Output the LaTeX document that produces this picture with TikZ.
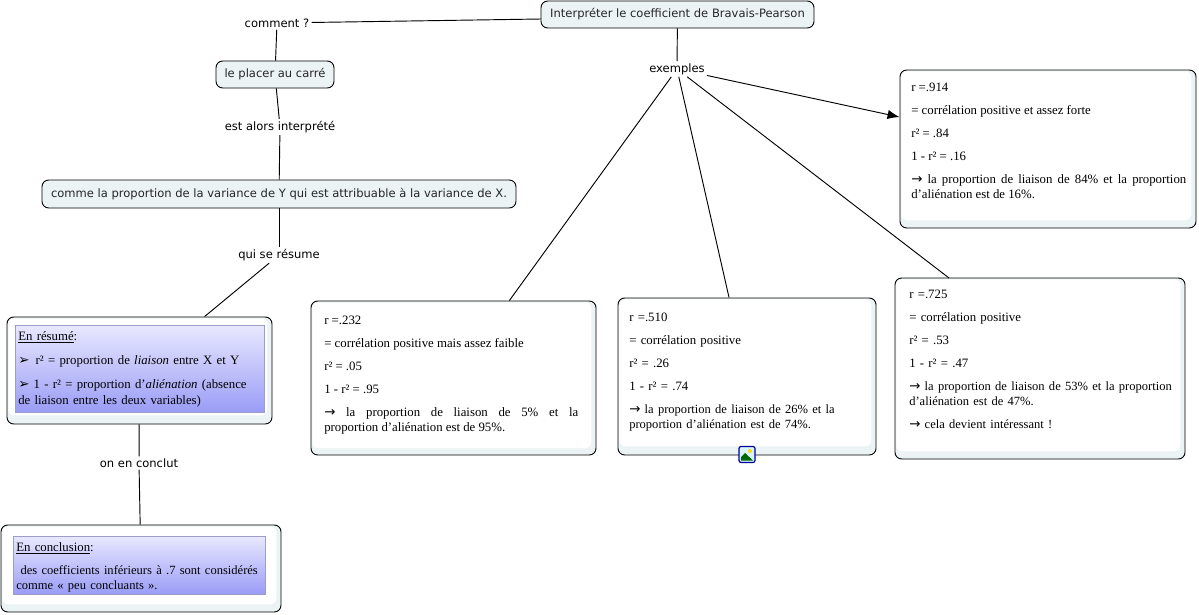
\documentclass[tikz,border=0pt]{standalone}
\usepackage{fontspec}
\setmainfont{Liberation Serif}
\setsansfont{DejaVu Sans}
\newfontfamily\symb{DejaVu Sans}
\usetikzlibrary{arrows.meta}
\newcommand{\px}[0]{0.75pt}
\newcommand{\fleche}[0]{{\symb\fontsize{10}{11.25}\selectfont →}}
\newcommand{\puce}[0]{{\symb\fontsize{10}{11.25}\selectfont ➢}}
\newcommand{\serre}[0]{\fontsize{9.4}{11.25}\selectfont}
\definecolor{conceptfill}{HTML}{EBF3F5}
\definecolor{bluetop}{HTML}{E8E8FF}
\definecolor{bluebottom}{HTML}{9A9CF6}
\definecolor{blueedge}{HTML}{9C9CC8}
\tikzset{
  concept/.style={shape=rectangle,draw=black,fill=conceptfill,rounded corners=5pt,line width=0.7pt,
    inner sep=0pt,font=\sffamily\fontsize{8.65}{10}\selectfont,text=black!85},
  linklabel/.style={inner sep=1.5pt,font=\sffamily\fontsize{8.65}{10}\selectfont},
  notebox/.style={shape=rectangle,draw=black,fill=conceptfill,rounded corners=5pt,line width=0.7pt,inner sep=0pt},
  paper/.style={shape=rectangle,fill=white,rounded corners=4.5pt,inner sep=0pt,anchor=north west},
  bluepaper/.style={shape=rectangle,draw=blueedge,top color=bluetop,bottom color=bluebottom,line width=0.5pt,
    inner sep=0pt,anchor=north west},
  notetext/.style={anchor=north west,inner sep=0pt,align=left,
    font=\fontsize{9.6}{11.25}\selectfont,execute at begin node={\setlength{\parskip}{6pt}\hyphenpenalty=10000 }},
  link/.style={-,draw=black,line width=0.7pt}
}
\begin{document}
\begin{tikzpicture}[x=\px,y=\px]
        \useasboundingbox (0,0) rectangle (1199,-614);
        %concepts
        \node[concept,minimum width=273*\px,minimum height=27*\px] (root) at (677.5,-14.5) {Interpréter le coefficient de Bravais-Pearson};
        \node[concept,minimum width=118*\px,minimum height=27*\px] (placer) at (275,-74.5) {le placer au carré};
        \node[concept,minimum width=474*\px,minimum height=28*\px] (comme) at (279,-194) {comme la proportion de la variance de Y qui est attribuable à la variance de X.};
        %link labels
        \node[linklabel] (comment) at (277,-23) {comment ?};
        \node[linklabel] (exemples) at (677,-69) {exemples};
        \node[linklabel] (alors) at (280,-127) {est alors interprété};
        \node[linklabel] (resume) at (279,-255) {qui se résume};
        \node[linklabel] (conclut) at (139,-463) {on en conclut};
        %note boxes
        \node[notebox,minimum width=265*\px,minimum height=107*\px] (boxresume) at (139.5,-370.5) {};
        \node[paper,minimum width=259*\px,minimum height=97*\px] (backresume) at (8,-318) {};
        \node[bluepaper,minimum width=249*\px,minimum height=87*\px] (paperresume) at (15,-325) {};
        \node[notetext,text width=243*\px,font=\fontsize{9.6}{12}\selectfont] (textresume) at (18,-331) {\underline{En résumé}:\par
          \puce\hspace{1.5pt}\ r² = proportion de \textit{liaison} entre X et Y\par
          \puce\ 1 - r² = proportion d’\textit{aliénation} (absence de liaison entre les deux variables)};
        \node[notebox,minimum width=280*\px,minimum height=87*\px] (boxconclusion) at (141,-568.5) {};
        \node[paper,minimum width=274*\px,minimum height=78*\px] (backconclusion) at (2,-526) {};
        \node[bluepaper,minimum width=252*\px,minimum height=58*\px] (paperconclusion) at (13,-536) {};
        \node[notetext,text width=248*\px] (textconclusion) at (16,-542) {\underline{En conclusion}:\par
          \serre\ des coefficients inférieurs à .7 sont considérés comme « peu concluants ».};
        %examples
        \node[notebox,minimum width=285*\px,minimum height=154*\px] (boxa) at (453.5,-378) {};
        \node[paper,minimum width=279*\px,minimum height=146*\px] (papera) at (312,-302) {};
        \node[notetext,text width=254*\px,align=justify] (texta) at (324,-315.5) {r =.232\par
          = corrélation positive mais assez faible\par
          r² = .05\par
          1 - r² = .95\par
          \fleche\ la proportion de liaison de 5\% et la\linebreak proportion d’aliénation est de 95\%.};
        \node[notebox,minimum width=258*\px,minimum height=157*\px] (boxb) at (747,-376.5) {};
        \node[paper,minimum width=252*\px,minimum height=147*\px] (paperb) at (619,-299) {};
        \node[notetext,text width=236*\px] (textb) at (629,-312.5) {r =.510\par
          = corrélation positive\par
          r² = .26\par
          1 - r² = .74\par
          \serre\fleche\ la proportion de liaison de 26\% et la proportion d’aliénation est de 74\%.};
        \node[notebox,minimum width=290*\px,minimum height=181*\px] (boxc) at (1040,-368.5) {};
        \node[paper,minimum width=284*\px,minimum height=172*\px] (paperc) at (896,-279) {};
        \node[notetext,text width=272*\px] (textc) at (909,-290) {r =.725\par
          = corrélation positive\par
          r² = .53\par
          1 - r² = .47\par
          \serre\fleche\ la proportion de liaison de 53\% et la proportion\linebreak d’aliénation est de 47\%.\par
          \fleche\ cela devient intéressant !};
        \node[notebox,minimum width=296*\px,minimum height=158*\px] (boxd) at (1048,-149) {};
        \node[paper,minimum width=290*\px,minimum height=149*\px] (paperd) at (901,-71) {};
        \node[notetext,text width=275*\px,align=justify] (textd) at (911,-83) {r =.914\par
          = corrélation positive et assez forte\par
          r² = .84\par
          1 - r² = .16\par
          \fleche\ la proportion de liaison de 84\% et la proportion d’aliénation est de 16\%.};
        %image icon
        \node[shape=rectangle,draw=blue!60!black,fill=cyan!15,rounded corners=1.5pt,line width=0.9pt,minimum width=16*\px,minimum height=16*\px,inner sep=0pt] (icon) at (747,-454.5) {};
        \fill[green!40!black] (741,-460.5) -- (741,-457) -- (745,-453) -- (753,-460.5) -- cycle;
        \fill[yellow!80!orange] (750,-451) circle (2*\px);
        %free ends of edges
        \coordinate (topc) at (949,-278);
        \coordinate (rootleft) at (541,-19);
        %edges
        \path[link] (rootleft) edge (comment);
        \path[link] (comment) edge (placer);
        \path[link] (placer) edge (alors);
        \path[link] (alors) edge (comme);
        \path[link] (comme) edge (resume);
        \path[link] (resume) edge (boxresume);
        \path[link] (boxresume) edge (conclut);
        \path[link] (conclut) edge (boxconclusion);
        \path[link] (root) edge (exemples);
        \path[link] (exemples) edge (boxa);
        \path[link] (exemples) edge (boxb);
        \path[link] (exemples) edge (topc);
        \path[link,-{Latex[length=9pt,width=7pt]}] (exemples) edge (boxd);
\end{tikzpicture}
\end{document}
